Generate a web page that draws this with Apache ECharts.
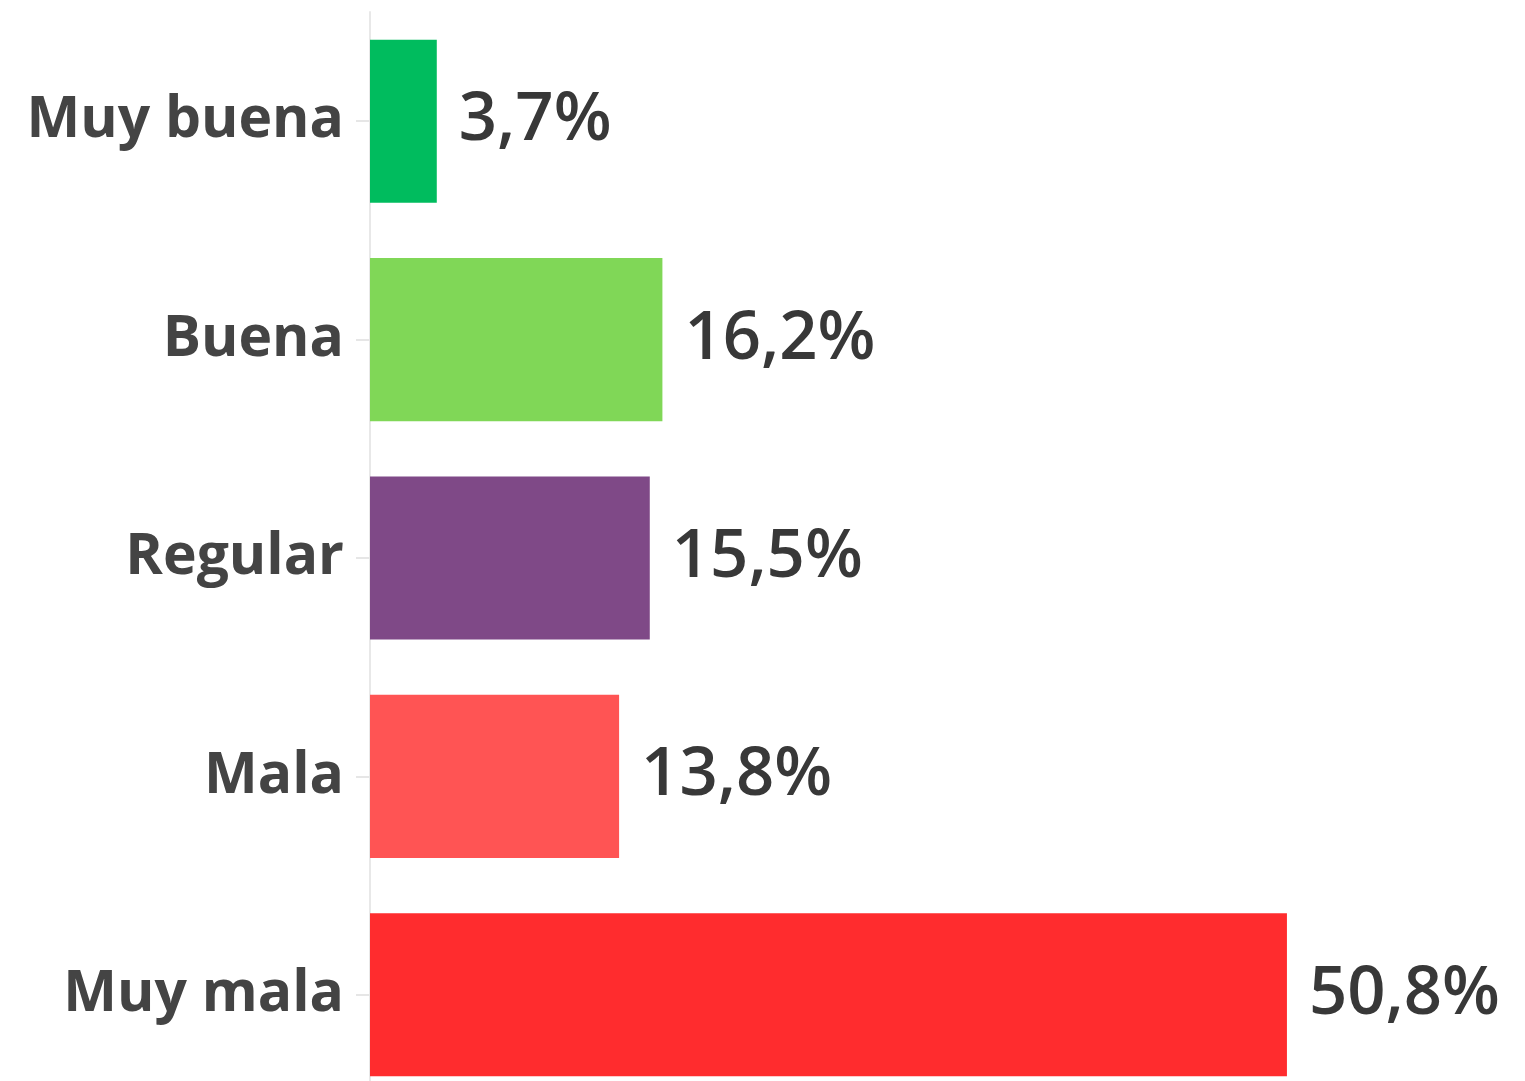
<!DOCTYPE html>
<html>
<head>
<meta charset="utf-8">
<script src="https://cdn.jsdelivr.net/npm/echarts@6/dist/echarts.min.js"></script>
<style>
  html, body { margin: 0; padding: 0; background: #fff; }
  #chart { width: 1525px; height: 1081px; }
</style>
</head>
<body>
<div id="chart"></div>
<script>
// DATA
var categories = ['Muy buena', 'Buena', 'Regular', 'Mala', 'Muy mala']
var values = [3.7, 16.2, 15.5, 13.8, 50.8]
var colors = ['#00bc5e', '#80d757', '#7f4987', '#ff5454', '#ff2c2e']

var chart = echarts.init(document.getElementById('chart'))

var option = {
    animation: false,
    grid: { left: 370, top: 12, right: 72, bottom: -23, outerBoundsMode: 'none', containLabel: false },
    xAxis: {
        type: 'value',
        min: 0,
        max: 60,
        show: false
    },
    yAxis: {
        type: 'category',
        inverse: true,
        data: categories,
        axisLine: { show: true, lineStyle: { color: '#e8e8e8', width: 2 } },
        axisTick: { show: true, alignWithLabel: true, length: 14, lineStyle: { color: '#e6e6e6', width: 2 } },
        axisLabel: {
            margin: 26,
            color: '#444',
            fontFamily: 'Open Sans',
            fontWeight: 'bold',
            fontSize: 57
        }
    },
    series: [
        {
            type: 'bar',
            data: values.map(function (v, i) {
                return { value: v, itemStyle: { color: colors[i] } }
            }),
            barCategoryGap: '25.3%',
            label: {
                show: true,
                position: 'right',
                distance: 22,
                color: '#383838',
                fontFamily: 'Open Sans',
                fontWeight: 600,
                fontSize: 67,
                formatter: function (p) {
                    return p.value.toFixed(1).replace('.', ',') + '%'
                }
            }
        }
    ]
}
chart.setOption(option)
</script>
</body>
</html>
